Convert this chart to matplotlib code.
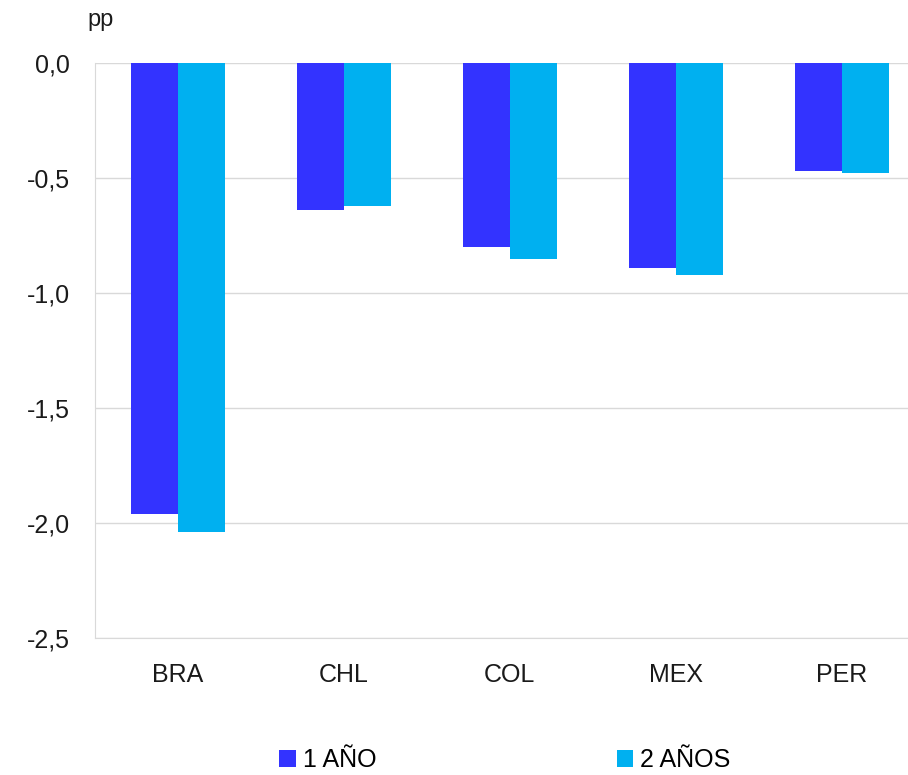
import matplotlib
matplotlib.use('Agg')
import numpy as np
import matplotlib.pyplot as plt

paises = ["BRA", "CHL", "COL", "MEX", "PER"]
un_ano = [-1.96, -0.64, -0.80, -0.89, -0.47]
dos_anos = [-2.04, -0.62, -0.85, -0.92, -0.48]
yticks = [0.0, -0.5, -1.0, -1.5, -2.0, -2.5]

plt.rcParams['font.family'] = ['Liberation Sans', 'DejaVu Sans']

fig = plt.figure(figsize=(9.08, 7.75), dpi=100)
ax = fig.add_axes([95 / 908, 137 / 775, 813 / 908, 575 / 775])

x = np.arange(len(paises))
w = 0.283
ax.bar(x - w / 2, un_ano, w, color='#3333FF', label='1 AÑO', zorder=3)
ax.bar(x + w / 2, dos_anos, w, color='#00B0F0', label='2 AÑOS', zorder=3)

ax.set_xlim(-0.5, 4.4)
ax.set_ylim(-2.5, 0.0)
ax.set_yticks(yticks)
ax.set_yticklabels(["{:.1f}".format(v).replace('.', ',') for v in yticks])
ax.set_xticks(x)
ax.set_xticklabels(paises)
ax.tick_params(axis='both', length=0, labelsize=18, colors='#1a1a1a')
ax.tick_params(axis='y', pad=18)
ax.tick_params(axis='x', pad=18)
ax.yaxis.grid(True, color='#d9d9d9', linewidth=1, zorder=0)
for s in ['top', 'right']:
    ax.spines[s].set_visible(False)
for s in ['left', 'bottom']:
    ax.spines[s].set_color('#d9d9d9')

fig.text(87 / 908, 1 - 20 / 775, "pp", fontsize=17, va='center', ha='left', color='#1a1a1a')

fig.legend(loc='center', bbox_to_anchor=(505 / 908, 1 - 760 / 775), ncol=2, frameon=False,
           fontsize=18, handlelength=0.65, handleheight=0.65, handletextpad=0.3,
           columnspacing=9.6)

fig.savefig("out.png", dpi=100)
